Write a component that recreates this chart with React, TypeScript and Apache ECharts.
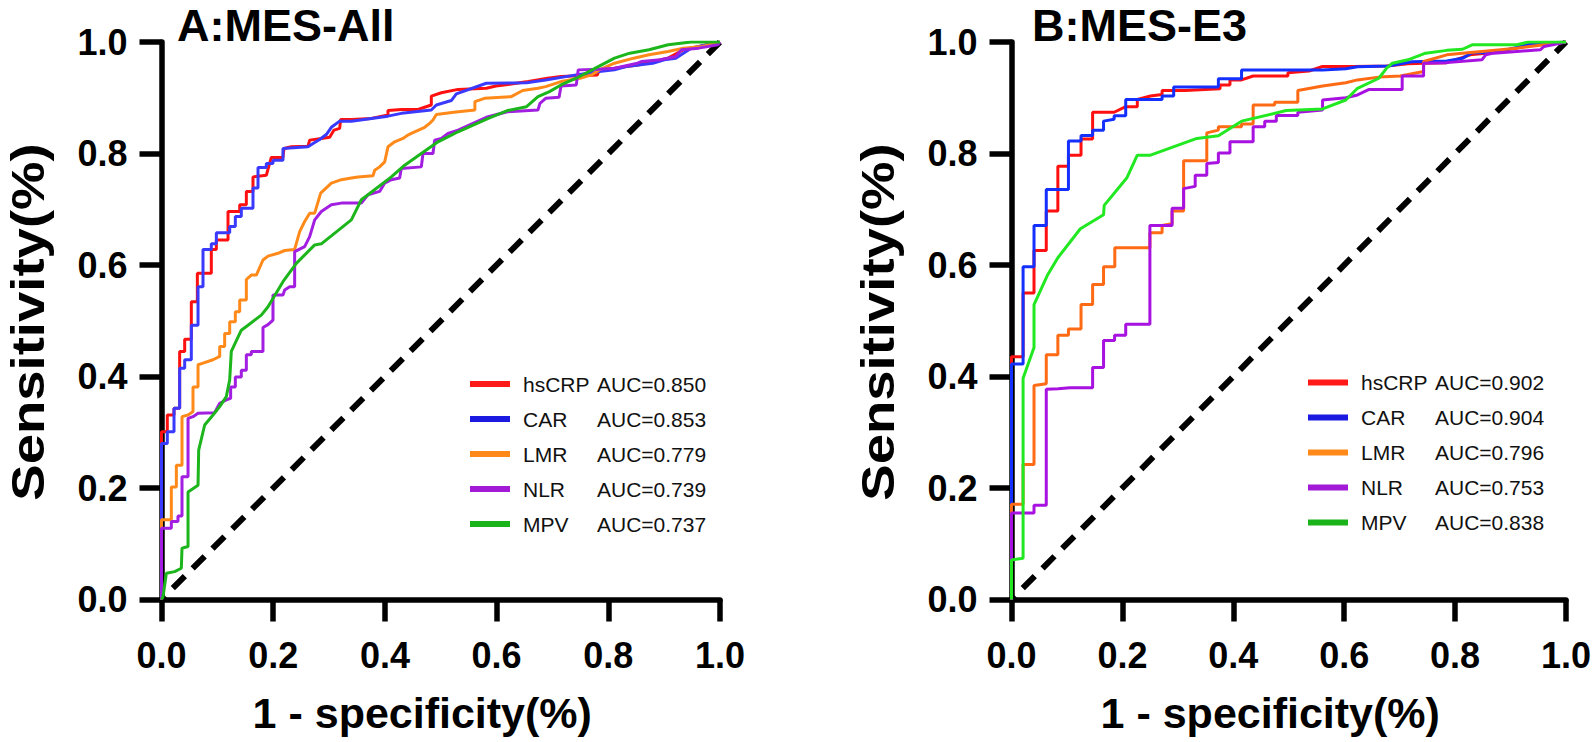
import React, { useEffect, useRef } from "react";
import * as echarts from "echarts";

// ---------- data ----------
const markers = ["hsCRP", "CAR", "LMR", "NLR", "MPV"];
const panelTitles = ["A:MES-All", "B:MES-E3"];
const aucA = ["0.850", "0.853", "0.779", "0.739", "0.737"];
const aucB = ["0.902", "0.904", "0.796", "0.753", "0.838"];
const xTicks = [0, 0.2, 0.4, 0.6, 0.8, 1.0];
const yTicks = [0, 0.2, 0.4, 0.6, 0.8, 1.0];
const xTitle = "1 - specificity(%)";
const yTitle = "Sensitivity(%)";
const diagonal = [[0, 0], [1, 1]];

// Panel A ROC curves: [1 - specificity, sensitivity]
const hsCRP_A = [[0,0],[0,0.301],[0.0104,0.301],[0.0104,0.331],[0.0224,0.331],[0.0224,0.343],[0.0325,0.343],[0.0325,0.445],[0.0415,0.445],[0.0415,0.467],[0.0534,0.467],[0.0534,0.534],[0.0642,0.534],[0.0642,0.585],[0.0892,0.585],[0.0892,0.628],[0.0982,0.628],[0.0982,0.645],[0.1191,0.645],[0.1191,0.696],[0.14,0.696],[0.14,0.708],[0.1519,0.708],[0.1519,0.732],[0.1638,0.732],[0.1638,0.758],[0.1877,0.761],[0.1966,0.793],[0.2175,0.793],[0.2193,0.809],[0.2325,0.812],[0.2623,0.813],[0.2653,0.824],[0.2862,0.827],[0.3011,0.829],[0.3089,0.842],[0.319,0.845],[0.3208,0.861],[0.34,0.861],[0.3757,0.863],[0.4055,0.869],[0.4055,0.877],[0.4294,0.879],[0.4593,0.879],[0.4831,0.887],[0.4831,0.903],[0.501,0.909],[0.531,0.915],[0.5816,0.917],[0.5988,0.921],[0.657,0.929],[0.6914,0.935],[0.7153,0.938],[0.7803,0.941],[0.7837,0.949],[0.8111,0.953],[0.8557,0.959],[0.8797,0.965],[0.9071,0.971],[0.9345,0.986],[0.9619,0.992],[1,1]];
const CAR_A = [[0,0],[0,0.28],[0.0104,0.28],[0.0104,0.301],[0.0224,0.301],[0.0224,0.343],[0.0325,0.343],[0.0325,0.415],[0.0415,0.415],[0.0415,0.43],[0.0534,0.43],[0.0534,0.492],[0.0654,0.492],[0.0654,0.561],[0.0743,0.561],[0.0743,0.628],[0.0892,0.628],[0.0892,0.638],[0.0982,0.638],[0.0982,0.658],[0.1221,0.658],[0.1221,0.669],[0.1322,0.669],[0.1322,0.687],[0.1429,0.687],[0.1429,0.702],[0.1638,0.702],[0.1638,0.738],[0.1728,0.738],[0.1728,0.775],[0.1877,0.775],[0.1877,0.782],[0.1996,0.782],[0.1996,0.788],[0.2175,0.788],[0.2175,0.809],[0.2623,0.812],[0.2713,0.818],[0.2832,0.825],[0.2951,0.834],[0.3041,0.847],[0.319,0.858],[0.34,0.858],[0.4055,0.867],[0.4294,0.872],[0.4831,0.878],[0.4921,0.887],[0.5189,0.895],[0.5279,0.907],[0.5816,0.926],[0.6536,0.927],[0.6879,0.932],[0.7427,0.941],[0.7837,0.947],[0.8111,0.95],[0.8317,0.956],[0.8797,0.962],[0.9003,0.968],[0.9208,0.971],[0.9345,0.98],[0.9482,0.989],[1,1]];
const LMR_A = [[0,0],[0,0.143],[0.0176,0.143],[0.0176,0.202],[0.0266,0.202],[0.0266,0.241],[0.0367,0.241],[0.0367,0.328],[0.0475,0.331],[0.0564,0.337],[0.0564,0.381],[0.0654,0.381],[0.0654,0.421],[0.0743,0.424],[0.0922,0.43],[0.1042,0.436],[0.1042,0.454],[0.1131,0.454],[0.1131,0.477],[0.1221,0.477],[0.1221,0.498],[0.1322,0.498],[0.1322,0.516],[0.14,0.516],[0.14,0.537],[0.1519,0.537],[0.1519,0.574],[0.1608,0.582],[0.1698,0.582],[0.1817,0.609],[0.1907,0.616],[0.2086,0.621],[0.2205,0.626],[0.2384,0.628],[0.2474,0.66],[0.2563,0.678],[0.2653,0.693],[0.2743,0.693],[0.285,0.729],[0.3041,0.747],[0.322,0.753],[0.3399,0.756],[0.3518,0.758],[0.3787,0.76],[0.3817,0.77],[0.3906,0.776],[0.3996,0.785],[0.4055,0.812],[0.4175,0.821],[0.4324,0.827],[0.4413,0.833],[0.4473,0.836],[0.4712,0.847],[0.4801,0.854],[0.4861,0.86],[0.4921,0.87],[0.5234,0.874],[0.5611,0.878],[0.5611,0.893],[0.5782,0.899],[0.6262,0.902],[0.6467,0.913],[0.6741,0.917],[0.6879,0.92],[0.7153,0.929],[0.7495,0.935],[0.7701,0.941],[0.7837,0.95],[0.8111,0.962],[0.8455,0.971],[0.8729,0.977],[0.9071,0.983],[0.9345,0.989],[0.9688,0.992],[1,1]];
const NLR_A = [[0,0],[0,0.128],[0.0176,0.128],[0.0176,0.14],[0.0295,0.14],[0.0295,0.15],[0.0367,0.15],[0.0367,0.22],[0.0475,0.22],[0.0475,0.325],[0.0564,0.328],[0.0654,0.334],[0.0952,0.335],[0.1042,0.352],[0.1161,0.358],[0.1238,0.361],[0.1238,0.381],[0.1322,0.381],[0.1322,0.399],[0.1429,0.399],[0.1429,0.411],[0.1519,0.411],[0.1519,0.439],[0.1608,0.439],[0.1608,0.445],[0.1817,0.445],[0.1817,0.488],[0.1907,0.493],[0.1996,0.501],[0.1996,0.546],[0.2175,0.546],[0.2205,0.555],[0.2295,0.561],[0.2384,0.561],[0.2384,0.624],[0.2563,0.633],[0.2653,0.651],[0.2743,0.681],[0.2862,0.696],[0.3041,0.708],[0.322,0.711],[0.3578,0.711],[0.3697,0.726],[0.3906,0.732],[0.3996,0.747],[0.4115,0.753],[0.4264,0.756],[0.4294,0.773],[0.4652,0.776],[0.4682,0.8],[0.4861,0.8],[0.4891,0.824],[0.501,0.827],[0.513,0.836],[0.531,0.842],[0.5816,0.865],[0.6193,0.875],[0.6741,0.878],[0.6776,0.89],[0.6879,0.899],[0.7119,0.901],[0.7153,0.921],[0.7427,0.923],[0.7461,0.95],[0.7837,0.951],[0.8111,0.953],[0.8523,0.962],[0.8592,0.965],[0.8934,0.968],[0.9208,0.974],[0.9311,0.986],[0.9619,0.989],[0.9962,0.995],[1,1]];
const MPV_A = [[0,0],[0.0027,0.005],[0.0087,0.047],[0.0236,0.05],[0.0355,0.056],[0.0367,0.092],[0.0475,0.095],[0.0475,0.193],[0.0654,0.205],[0.0666,0.268],[0.0773,0.313],[0.0922,0.331],[0.1042,0.346],[0.1161,0.364],[0.1221,0.394],[0.125,0.445],[0.1429,0.483],[0.1549,0.492],[0.1787,0.51],[0.1907,0.525],[0.2175,0.57],[0.2414,0.603],[0.2743,0.636],[0.2862,0.638],[0.3399,0.681],[0.3578,0.717],[0.3697,0.726],[0.4115,0.758],[0.4354,0.779],[0.4652,0.8],[0.4951,0.821],[0.5189,0.833],[0.5309,0.839],[0.5851,0.863],[0.6193,0.877],[0.6536,0.884],[0.6741,0.902],[0.6947,0.911],[0.7153,0.923],[0.7427,0.935],[0.7769,0.953],[0.8111,0.971],[0.8385,0.98],[0.8729,0.986],[0.9071,0.995],[0.9482,1],[1,1]];

// Panel B ROC curves
const hsCRP_B = [[0,0],[0,0.4355],[0.0209,0.4355],[0.0209,0.55],[0.0406,0.55],[0.0406,0.626],[0.0627,0.626],[0.0627,0.697],[0.0836,0.697],[0.0836,0.777],[0.1027,0.777],[0.1027,0.797],[0.1254,0.797],[0.1254,0.826],[0.1463,0.826],[0.1463,0.874],[0.1851,0.874],[0.206,0.884],[0.2269,0.884],[0.2269,0.897],[0.2507,0.903],[0.2716,0.906],[0.2716,0.913],[0.3134,0.913],[0.3761,0.916],[0.3761,0.923],[0.394,0.923],[0.394,0.932],[0.4149,0.932],[0.4358,0.939],[0.4985,0.939],[0.4985,0.945],[0.5365,0.948],[0.561,0.956],[0.617,0.956],[0.6766,0.957],[0.7151,0.961],[0.7432,0.962],[0.7852,0.963],[0.8272,0.977],[0.8553,0.98],[0.9114,0.989],[0.9394,0.995],[1,1]];
const CAR_B = [[0,0],[0,0.4226],[0.0209,0.4226],[0.0209,0.5968],[0.0406,0.5968],[0.0406,0.671],[0.0627,0.671],[0.0627,0.7355],[0.1027,0.7355],[0.1027,0.8226],[0.1254,0.8226],[0.1254,0.8323],[0.1463,0.8323],[0.1463,0.8419],[0.166,0.8419],[0.166,0.8581],[0.1851,0.8613],[0.1851,0.8677],[0.206,0.8677],[0.206,0.8968],[0.2716,0.8968],[0.2716,0.9032],[0.2925,0.9032],[0.2925,0.9194],[0.3731,0.9194],[0.3731,0.9342],[0.4149,0.9342],[0.4149,0.9497],[0.561,0.9497],[0.6029,0.952],[0.624,0.9557],[0.68,0.957],[0.7221,0.9647],[0.7852,0.9659],[0.8133,0.9707],[0.8308,0.9809],[0.8693,0.9809],[0.9114,0.9904],[0.9323,0.9964],[1,1]];
const LMR_B = [[0,0],[0,0.171],[0.0209,0.171],[0.0209,0.242],[0.0406,0.242],[0.0406,0.384],[0.0627,0.387],[0.0627,0.439],[0.0836,0.439],[0.0836,0.474],[0.1027,0.474],[0.1027,0.485],[0.1254,0.485],[0.1254,0.529],[0.1463,0.529],[0.1463,0.565],[0.166,0.565],[0.166,0.597],[0.1863,0.597],[0.1863,0.631],[0.2496,0.631],[0.2496,0.658],[0.2716,0.658],[0.2716,0.671],[0.2896,0.674],[0.2896,0.697],[0.3104,0.697],[0.3104,0.787],[0.3522,0.787],[0.3522,0.837],[0.3731,0.842],[0.3731,0.848],[0.4149,0.848],[0.4149,0.853],[0.4358,0.853],[0.4358,0.887],[0.4746,0.887],[0.4746,0.892],[0.5164,0.892],[0.5164,0.913],[0.561,0.921],[0.6029,0.927],[0.624,0.932],[0.6625,0.937],[0.7011,0.939],[0.7432,0.947],[0.7432,0.965],[0.7852,0.977],[0.8272,0.981],[0.8483,0.983],[0.9114,0.989],[1,1]];
const NLR_B = [[0,0],[0,0.155],[0.0406,0.155],[0.0406,0.169],[0.0627,0.169],[0.0627,0.377],[0.0842,0.378],[0.1053,0.38],[0.1463,0.38],[0.1463,0.416],[0.166,0.416],[0.166,0.4645],[0.1859,0.4645],[0.1859,0.4742],[0.206,0.4742],[0.206,0.4935],[0.2496,0.4935],[0.2496,0.671],[0.2896,0.671],[0.2896,0.702],[0.3104,0.702],[0.3104,0.737],[0.3313,0.741],[0.3313,0.761],[0.3522,0.761],[0.3522,0.782],[0.3731,0.784],[0.3731,0.801],[0.394,0.801],[0.394,0.821],[0.4358,0.821],[0.4358,0.848],[0.4567,0.848],[0.4567,0.858],[0.4776,0.858],[0.4776,0.868],[0.5164,0.868],[0.5164,0.874],[0.561,0.878],[0.561,0.896],[0.6029,0.9],[0.624,0.905],[0.645,0.915],[0.7046,0.915],[0.7046,0.939],[0.7432,0.939],[0.7432,0.962],[0.7852,0.963],[0.8483,0.968],[0.8553,0.977],[0.8693,0.98],[0.9114,0.983],[0.9535,0.986],[0.9605,0.992],[1,1]];
const MPV_B = [[0,0],[0,0.071],[0.0209,0.074],[0.0209,0.397],[0.0406,0.452],[0.0406,0.529],[0.0645,0.581],[0.0836,0.613],[0.1242,0.665],[0.166,0.69],[0.1672,0.707],[0.2078,0.756],[0.2269,0.797],[0.2507,0.797],[0.3343,0.827],[0.3731,0.832],[0.4149,0.858],[0.4955,0.877],[0.561,0.88],[0.6029,0.896],[0.624,0.917],[0.6625,0.935],[0.6766,0.953],[0.687,0.962],[0.7151,0.968],[0.7467,0.98],[0.7852,0.985],[0.8133,0.987],[0.8308,0.995],[0.9114,0.995],[0.9323,1],[1,1]];

const curvesA = [hsCRP_A, CAR_A, LMR_A, NLR_A, MPV_A];
const curvesB = [hsCRP_B, CAR_B, LMR_B, NLR_B, MPV_B];
const lineColorsA = ["#ff1010", "#3a3aff", "#ff8a1a", "#a21ee0", "#1cb51c"];
const lineColorsB = ["#ff1010", "#1430ff", "#ff6a14", "#a812e0", "#22e822"];
const legendColors = ["#ff1a1a", "#1a1ae0", "#ff8a1a", "#a21ad6", "#1ab41a"];

const FONT = "'Liberation Sans', Arial, Helvetica, sans-serif";

function buildOption() {
  const grids = [
    { left: 161.5, top: 42, width: 558.5, height: 557.5 },
    { left: 1011.5, top: 42, width: 557, height: 557.5 },
  ];
  const axisCommon = {
    type: "value",
    min: 0,
    max: 1,
    interval: 0.2,
    splitLine: { show: false },
    axisLine: { show: true, lineStyle: { color: "#000", width: 5.5 } },
    axisTick: { show: true, length: 22, lineStyle: { color: "#000", width: 5.5 } },
  };
  const xAxes = grids.map((_, i) => ({
    ...axisCommon,
    gridIndex: i,
    name: xTitle,
    nameLocation: "middle",
    nameGap: 92,
    nameTextStyle: { fontSize: 43, fontWeight: "bold", color: "#000", fontFamily: FONT, padding: [0, 37, 0, 0] },
    axisLabel: {
      margin: 38,
      fontSize: 36,
      fontWeight: "bold",
      color: "#000",
      fontFamily: FONT,
      formatter: (v: number) => xTicks.includes(Math.round(v * 10) / 10) ? v.toFixed(1) : "",
    },
  }));
  const yAxes = grids.map((_, i) => ({
    ...axisCommon,
    gridIndex: i,
    axisLabel: {
      margin: 34,
      fontSize: 36,
      fontWeight: "bold",
      color: "#000",
      fontFamily: FONT,
      formatter: (v: number) => yTicks.includes(Math.round(v * 10) / 10) ? v.toFixed(1) : "",
    },
  }));

  const series: any[] = [];
  const panels = [
    { key: "A", curves: curvesA, colors: lineColorsA },
    { key: "B", curves: curvesB, colors: lineColorsB },
  ];
  panels.forEach((p, gi) => {
    series.push({
      name: p.key + ":ref",
      type: "line",
      xAxisIndex: gi,
      yAxisIndex: gi,
      data: diagonal,
      showSymbol: false,
      symbol: "none",
      silent: true,
      z: 1,
      lineStyle: { color: "#000", width: 6, type: [17, 11], dashOffset: 12 },
    });
    markers.forEach((m, k) => {
      series.push({
        name: p.key + ":" + m,
        type: "line",
        xAxisIndex: gi,
        yAxisIndex: gi,
        data: p.curves[k],
        showSymbol: false,
        symbol: "none",
        z: 2 + k,
        itemStyle: { color: legendColors[k] },
        lineStyle: { color: p.colors[k], width: 3 },
      });
    });
  });

  const legendRich = {
    g: { fontSize: 21, fontFamily: FONT, width: 8 },
    n: { fontSize: 21, fontFamily: FONT, color: "#111", width: 74 },
    a: { fontSize: 21, fontFamily: FONT, color: "#111" },
  };
  const mkLegend = (key: string, aucs: string[], left: number, top: number) => ({
    orient: "vertical",
    left,
    top,
    icon: "rect",
    itemWidth: 40,
    itemHeight: 6,
    itemGap: 14,
    padding: 0,
    selectedMode: false,
    data: markers.map((m) => key + ":" + m),
    formatter: (name: string) => {
      const m = name.split(":")[1];
      const idx = markers.indexOf(m);
      return "{g| }{n|" + m + "}{a|AUC=" + aucs[idx] + "}";
    },
    textStyle: { rich: legendRich },
  });

  const yTitleGraphic = (cx: number) => ({
    type: "text",
    x: cx,
    y: 322,
    rotation: Math.PI / 2,
    scaleX: 1.16,
    style: {
      text: yTitle,
      font: "bold 47px " + FONT,
      fill: "#000",
      align: "center",
      verticalAlign: "middle",
      textAlign: "center",
      textVerticalAlign: "middle",
    },
  });

  return {
    animation: false,
    backgroundColor: "#fff",
    title: [
      { text: panelTitles[0], left: 177, top: 3, padding: 0, textStyle: { fontSize: 45, fontWeight: "bold", color: "#000", fontFamily: FONT } },
      { text: panelTitles[1], left: 1032, top: 3, padding: 0, textStyle: { fontSize: 45, fontWeight: "bold", color: "#000", fontFamily: FONT } },
    ],
    grid: grids,
    xAxis: xAxes,
    yAxis: yAxes,
    legend: [mkLegend("A", aucA, 470, 373.5), mkLegend("B", aucB, 1308, 372)],
    graphic: [yTitleGraphic(28), yTitleGraphic(878)],
    series,
  };
}

export default function App() {
  const ref = useRef<HTMLDivElement>(null);
  useEffect(() => {
    if (!ref.current) return;
    const chart = echarts.init(ref.current, undefined, { renderer: "svg" });
    chart.setOption(buildOption() as any);
    return () => chart.dispose();
  }, []);
  return (
    <div
      ref={ref}
      style={{ position: "fixed", left: 0, top: 0, width: 1594, height: 742, background: "#fff" }}
    />
  );
}
